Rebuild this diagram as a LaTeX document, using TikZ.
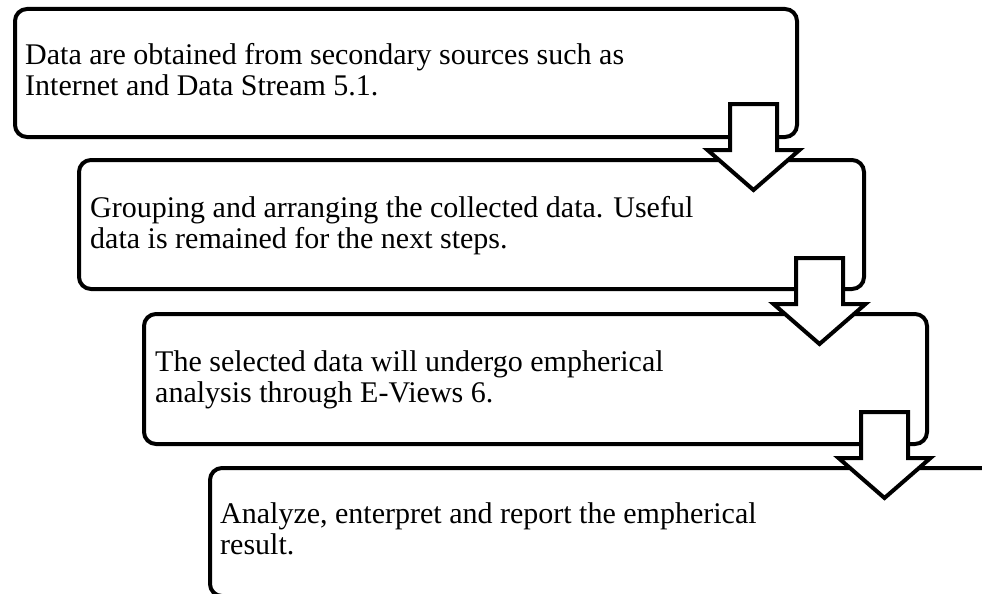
\documentclass[tikz,border=0pt]{standalone}
\usepackage{fontspec}
\setmainfont{Liberation Serif}
\tikzset{
  box/.style={draw=black, line width=4pt, rounded corners=12pt, fill=white, anchor=north west, inner sep=0pt},
  txt/.style={anchor=base west, inner sep=0pt, font=\fontsize{30}{31}\selectfont, align=left},
  blockarr/.style={draw=black, line width=4pt, fill=white, miter limit=10, line join=miter}
}
\newcommand\downblock[1]{%
  \draw[blockarr] (#1) ++(-23.5,0) -- ++(47,0) -- ++(0,46) -- ++(22.5,0) -- ++(-46,40) -- ++(-46,-40) -- ++(22.5,0) -- cycle;}
\begin{document}
\begin{tikzpicture}[x=1pt,y=-1pt]
\useasboundingbox (0,0) rectangle (982,594);
\clip (0,0) rectangle (982,594);
% box 1
\node[box, minimum width=782pt, minimum height=128pt] (b1) at (13,7) {};
\node[txt] (t1) at (25,95) {Data are obtained from secondary sources such as\\Internet and Data Stream 5.1.};
% box 2
\node[box, minimum width=785pt, minimum height=129pt] (b2) at (77,158) {};
\node[txt] (t2) at (90,248) {Grouping and arranging the collected data. Useful\\data is remained for the next steps.};
\coordinate (a1) at (753.5,104);
\downblock{a1}
% box 3
\node[box, minimum width=783pt, minimum height=130pt] (b3) at (142,312) {};
\node[txt] (t3) at (155,402) {The selected data will undergo empherical\\analysis through E-Views 6.};
\coordinate (a2) at (819.5,258);
\downblock{a2}
% box 4
\node[box, minimum width=800pt, minimum height=128pt] (b4) at (208,466) {};
\node[txt] (t4) at (220,554) {Analyze, enterpret and report the empherical\\result.};
\coordinate (a3) at (884.5,412);
\downblock{a3}
\end{tikzpicture}
\end{document}
